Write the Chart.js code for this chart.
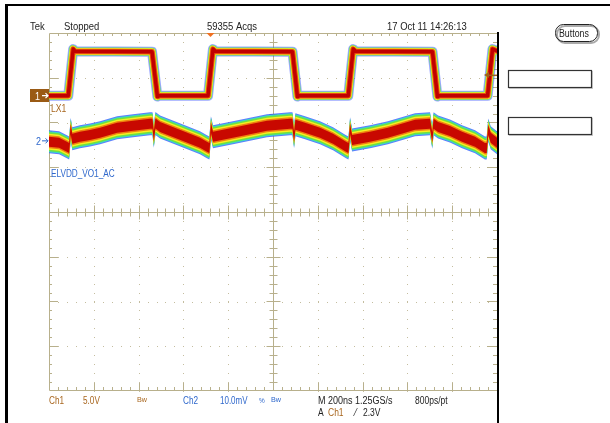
<!DOCTYPE html>
<html><head><meta charset="utf-8">
<script src="https://cdn.jsdelivr.net/npm/chart.js@4.4.1/dist/chart.umd.min.js"></script>
<style>html,body{margin:0;padding:0;background:#fff;}#wrap{position:relative;width:610px;height:423px;}</style>
</head><body><div id="wrap"><canvas id="c"></canvas></div>
<script>
// ---- data (time in ns, Ch1 in V, Ch2 in mV) ----
const ch1Time  = [-1000,-914,-892,-884,-540,-516,-505,-290,-268,-258,87,109,120,336,358,368,712,734,745,958,980,1000];
const ch1Volts = [0,0,5.2,4.95,4.9,-0.1,0,0,5.2,4.95,4.9,-0.1,0,0,5.2,4.95,4.9,-0.1,0,0,5.2,5.0];
const ch2Time  = [-1000,-955,-920,-910,-903,-896,-862,-817,-772,-696,-625,-549,-538,-532,-525,-504,-473,-402,-326,-295,-284,-277,-268,-179,-103,-27,76,87,94,100,143,210,268,326,337,344,353,433,513,589,634,701,711,717,737,790,844,902,946,954,961,972,1000];
const ch2MilliVolts = [-0.2,-0.45,-1.3,-1.6,2.6,0.45,0.9,1.3,1.8,2.9,3.4,3.8,3.8,1.0,3.9,3.1,2.5,1.1,-0.45,-1.3,-1.6,2.9,0.9,1.8,2.6,3.4,3.8,3.8,0.9,3.6,2.9,1.8,0.45,-1.3,-1.6,2.7,0.2,0.9,1.8,2.9,3.6,3.8,0.8,3.8,3.1,2.2,0.9,-0.2,-1.6,-1.6,2.4,0.7,-0.45];
const xTicksNs = [-1000,-800,-600,-400,-200,0,200,400,600,800,1000];
const yTicksDiv = [-4,-3,-2,-1,0,1,2,3,4];
const ch1VoltsPerDiv = 5.0, ch1OffsetDiv = 2.6;
const ch2MilliVoltsPerDiv = 10.0, ch2OffsetDiv = 1.59;
const triggerTimeNs = -279, triggerLevelV = 2.3;

const pxPerDiv = (423 - 33 - 32) / 8;   // plot height / 8 divisions (style: persistence band widths are in px)
const ch1Pts = ch1Time.map((t,i)=>({x:t, y: ch1OffsetDiv + ch1Volts[i]/ch1VoltsPerDiv}));
const ch2Pts = ch2Time.map((t,i)=>({x:t, y: ch2OffsetDiv + ch2MilliVolts[i]/ch2MilliVoltsPerDiv}));

// persistence colour layers: [width px, colour]
const ch1Layers = [[10,'rgba(30,60,255,0.45)'],[8,'#58e060'],[7,'#f0ec20'],[5.5,'#e84a10'],[3.5,'#c00000']];
const ch2Layers = [[11.5,'rgba(40,80,255,0.75)'],[10.5,'#38d8c8'],[9.5,'#70e040'],[8,'#f4f020'],[6.5,'#f08010'],[5,'#c80800']];

const datasets = [];
ch1Layers.forEach(([w,c])=>datasets.push({label:'CH1 LX1', data:ch1Pts, borderColor:c, borderWidth:w, clip:0, fill:false, order:100+w}));
ch2Layers.forEach(([h,c])=>{
  const off = h/pxPerDiv;
  datasets.push({label:'CH2 upper', data:ch2Pts.map(p=>({x:p.x,y:p.y+off})), borderWidth:0, borderColor:'rgba(0,0,0,0)', fill:false, clip:0, order:h});
  datasets.push({label:'CH2 ELVDD_VO1_AC', data:ch2Pts.map(p=>({x:p.x,y:p.y-off})), borderWidth:0, borderColor:'rgba(0,0,0,0)', backgroundColor:c, fill:'-1', clip:0, order:h});
});

const GRID = '#b8b08c', DOT = '#c4bd9f';
const BROWN = '#a8661e', BLUE = '#2f68cc', DARK = '#222';

function txt(ctx, s, x, y, color, size, sx){
  ctx.save(); ctx.translate(x,y); ctx.scale(sx||0.86,1);
  ctx.font = size+'px "Liberation Sans", Arial, sans-serif';
  ctx.fillStyle = color; ctx.textBaseline='alphabetic'; ctx.textAlign='left';
  ctx.fillText(s,0,0); ctx.restore();
}

const scopePlugin = {
  id:'scope',
  beforeDraw(chart){
    const ctx = chart.ctx; ctx.save(); ctx.fillStyle='#fff'; ctx.fillRect(0,0,chart.width,chart.height); ctx.restore();
  },
  beforeDatasetsDraw(chart){
    const ctx = chart.ctx, a = chart.chartArea, xs = chart.scales.x, ys = chart.scales.y;
    const minorX = (xTicksNs[1]-xTicksNs[0])/5, minorY = 0.2;
    ctx.save();
    ctx.fillStyle = DOT;
    xTicksNs.slice(1,-1).forEach(t=>{ if(t===0) return; const px=Math.round(xs.getPixelForValue(t));
      for(let v=-4; v<=4.001; v+=minorY){ const py=Math.round(ys.getPixelForValue(v)); ctx.fillRect(px,py,1,1);} });
    yTicksDiv.slice(1,-1).forEach(d=>{ if(d===0) return; const py=Math.round(ys.getPixelForValue(d));
      for(let t=-1000; t<=1000.1; t+=minorX){ const px=Math.round(xs.getPixelForValue(t)); ctx.fillRect(px,py,1,1);} });
    ctx.strokeStyle = GRID; ctx.lineWidth = 1;
    const L=a.left+0.5, T=a.top+0.5, B=a.bottom-0.5, R=a.right;
    ctx.beginPath(); ctx.moveTo(L,T); ctx.lineTo(R,T); ctx.moveTo(L,T); ctx.lineTo(L,B); ctx.moveTo(L,B); ctx.lineTo(R,B); ctx.stroke();
    const cx = Math.round(xs.getPixelForValue(0))+0.5, cy = Math.round(ys.getPixelForValue(0))+0.5;
    ctx.beginPath(); ctx.moveTo(cx,a.top); ctx.lineTo(cx,a.bottom); ctx.moveTo(a.left,cy); ctx.lineTo(a.right,cy); ctx.stroke();
    ctx.beginPath();
    for(let t=-1000+minorX; t<1000; t+=minorX){
      const px = Math.round(xs.getPixelForValue(t))+0.5;
      const major = Math.abs(t/200 - Math.round(t/200))<1e-6;
      const lb = major?8:4, lc = major?7:4;
      ctx.moveTo(px,a.top); ctx.lineTo(px,a.top+3);
      ctx.moveTo(px,a.bottom); ctx.lineTo(px,a.bottom-lb);
      ctx.moveTo(px,cy-lc); ctx.lineTo(px,cy+lc);
    }
    for(let v=-4+minorY; v<4; v+=minorY){
      const py = Math.round(ys.getPixelForValue(v))+0.5;
      const major = Math.abs(v - Math.round(v))<1e-6;
      const lb = major?9:3, lc = major?7:4;
      ctx.moveTo(a.left,py); ctx.lineTo(a.left+lb,py);
      ctx.moveTo(a.right,py); ctx.lineTo(a.right-(major?10:4),py);
      ctx.moveTo(cx-lc,py); ctx.lineTo(cx+lc,py);
    }
    ctx.stroke();
    ctx.restore();
  },
  afterDraw(chart){
    const ctx = chart.ctx, a = chart.chartArea, xs = chart.scales.x, ys = chart.scales.y;
    ctx.save();
    ctx.fillStyle = '#000';
    ctx.fillRect(6,4,chart.width-6,2);
    ctx.fillRect(5,4,3,chart.height-4);
    ctx.fillRect(a.right,a.top-1,2,chart.height-a.top+1);
    const tx = xs.getPixelForValue(triggerTimeNs);
    ctx.fillStyle = '#f07020';
    ctx.beginPath(); ctx.moveTo(tx-4,a.top); ctx.lineTo(tx+4,a.top); ctx.lineTo(tx,a.top+4); ctx.closePath(); ctx.fill();
    const ty = ys.getPixelForValue(ch1OffsetDiv + triggerLevelV/ch1VoltsPerDiv);
    ctx.fillStyle = '#a0601a';
    ctx.beginPath(); ctx.moveTo(a.right-13,ty); ctx.lineTo(a.right-8,ty-3); ctx.lineTo(a.right-8,ty+3); ctx.closePath(); ctx.fill();
    ctx.fillRect(a.right-9,ty-0.5,9,1.5);
    const y1 = ys.getPixelForValue(ch1OffsetDiv);
    ctx.fillStyle = '#9a5a14'; ctx.fillRect(30,Math.round(y1)-7,19,13);
    txt(ctx,'1',35,Math.round(y1)+4,'#fff',10,0.9);
    ctx.strokeStyle='#fff'; ctx.lineWidth=1.2; ctx.beginPath(); ctx.moveTo(42,y1); ctx.lineTo(48,y1); ctx.moveTo(45.5,y1-2.5); ctx.lineTo(48,y1); ctx.lineTo(45.5,y1+2.5); ctx.stroke();
    txt(ctx,'LX1',51,112,BROWN,10);
    const y2 = ys.getPixelForValue(ch2OffsetDiv);
    txt(ctx,'2',36,y2+4,BLUE,10,0.9);
    ctx.strokeStyle=BLUE; ctx.lineWidth=1; ctx.beginPath(); ctx.moveTo(42,y2); ctx.lineTo(48,y2); ctx.moveTo(45.5,y2-2.5); ctx.lineTo(48,y2); ctx.lineTo(45.5,y2+2.5); ctx.stroke();
    txt(ctx,'ELVDD_VO1_AC',51,177,BLUE,10,0.82);
    txt(ctx,'Tek',30,30,DARK,11);
    txt(ctx,'Stopped',64,30,DARK,11);
    txt(ctx,'59355 Acqs',207,30,DARK,11);
    txt(ctx,'17 Oct 11 14:26:13',387,30,DARK,11);
    txt(ctx,'Ch1',49,404,BROWN,10,0.82);
    txt(ctx,'5.0V',83,404,BROWN,10,0.82);
    txt(ctx,'Bw',137,402,BROWN,8,0.9);
    txt(ctx,'Ch2',183,404,BLUE,10,0.82);
    txt(ctx,'10.0mV',220,404,BLUE,10,0.8);
    txt(ctx,'%',259,403,BLUE,8,0.8);
    txt(ctx,'Bw',271,402,BLUE,8,0.9);
    txt(ctx,'M 200ns 1.25GS/s',318,404,DARK,10,0.9);
    txt(ctx,'800ps/pt',415,404,DARK,10,0.85);
    txt(ctx,'A',318,416,DARK,10,0.85);
    txt(ctx,'Ch1',328,416,BROWN,10,0.85);
    txt(ctx,'\u2044',355,416,DARK,10,0.9);
    txt(ctx,'2.3V',363,416,DARK,10,0.85);
    ctx.strokeStyle='#aaa'; ctx.lineWidth=2;
    ctx.beginPath(); ctx.roundRect(557,26,42,17,8); ctx.stroke();
    ctx.strokeStyle='#222'; ctx.lineWidth=1;
    ctx.beginPath(); ctx.roundRect(555.5,24.5,42,17,8); ctx.stroke();
    txt(ctx,'Buttons',559,37,DARK,10,0.88);
    [[508,70],[508,117]].forEach(([bx,by])=>{
      ctx.fillStyle='#ccc'; ctx.fillRect(bx+1,by+1,84,18);
      ctx.fillStyle='#fff'; ctx.fillRect(bx,by,83,17);
      ctx.strokeStyle='#333'; ctx.lineWidth=1.2; ctx.strokeRect(bx+0.5,by+0.5,83,17);
    });
    ctx.restore();
  }
};

new Chart(document.getElementById('c'), {
  type:'line',
  data:{datasets},
  options:{
    responsive:true, maintainAspectRatio:false, animation:false,
    layout:{padding:{left:49, top:33, right:113, bottom:32}},
    scales:{
      x:{type:'linear', min:xTicksNs[0], max:xTicksNs[xTicksNs.length-1], display:false},
      y:{type:'linear', min:yTicksDiv[0], max:yTicksDiv[yTicksDiv.length-1], display:false}
    },
    plugins:{legend:{display:false}, tooltip:{enabled:false}, filler:{propagate:false}},
    elements:{point:{radius:0}, line:{tension:0, borderJoinStyle:'round', borderCapStyle:'round'}}
  },
  plugins:[scopePlugin]
});
</script></body></html>
